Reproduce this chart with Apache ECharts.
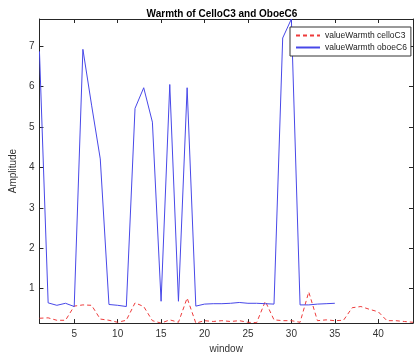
<!DOCTYPE html>
<html>
<head>
<meta charset="utf-8">
<script src="https://cdn.jsdelivr.net/npm/echarts@6/dist/echarts.min.js"></script>
<style>
  html, body { margin: 0; padding: 0; background: #fff; }
  #chart { width: 420px; height: 359px; }
</style>
</head>
<body>
<div id="chart"></div>
<script>
// window index
var windows = [];
for (var i = 1; i <= 44; i++) windows.push(i);
// valueWarmth celloC3 (red dashed), windows 1..44
var cello = [0.27, 0.28, 0.22, 0.22, 0.57, 0.60, 0.59, 0.25, 0.22, 0.17,
             0.22, 0.65, 0.56, 0.21, 0.15, 0.23, 0.17, 0.77, 0.15, 0.21,
             0.19, 0.21, 0.19, 0.21, 0.17, 0.16, 0.69, 0.23, 0.21, 0.21,
             0.17, 0.92, 0.21, 0.23, 0.21, 0.22, 0.53, 0.56, 0.49, 0.43,
             0.21, 0.21, 0.19, 0.17];
// valueWarmth oboeC6 (blue solid), windows 1..35
var oboe = [6.87, 0.65, 0.59, 0.64, 0.56, 6.92, 5.54, 4.21, 0.61, 0.59,
            0.56, 5.46, 5.97, 5.12, 0.69, 6.05, 0.69, 5.97, 0.57, 0.62,
            0.63, 0.63, 0.64, 0.66, 0.64, 0.64, 0.63, 0.62, 7.2, 7.67,
            0.6, 0.6, 0.62, 0.63, 0.64];
var xTicks = [5, 10, 15, 20, 25, 30, 35, 40];
var yTicks = [1, 2, 3, 4, 5, 6, 7];

function pairs(vals) {
  return vals.map(function (v, k) { return [windows[k], v]; });
}

var chart = echarts.init(document.getElementById('chart'));
var axisCol = '#262626';
var font = 'Liberation Sans, Arial, sans-serif';

chart.setOption({
  backgroundColor: '#fff',
  animation: false,
  title: {
    text: 'Warmth of CelloC3 and OboeC6',
    left: 217, top: 4, textAlign: 'center',
    textStyle: { fontSize: 10, fontWeight: 'bold', color: '#000', fontFamily: font }
  },
  legend: {
    left: 290, top: 27,
    orient: 'vertical',
    itemWidth: 24, itemHeight: 8, itemGap: 3,
    padding: [4, 4, 4, 5],
    borderColor: '#333', borderWidth: 1,
    backgroundColor: '#fff',
    itemStyle: { opacity: 0 },
    textStyle: { fontSize: 8.5, color: '#222', fontFamily: font },
    data: ['valueWarmth celloC3', 'valueWarmth oboeC6']
  },
  grid: { left: 20, right: 7, top: 19, bottom: 30 },
  xAxis: [{
    type: 'value', min: 1, max: 44,
    name: 'window', nameLocation: 'middle', nameGap: 20,
    nameTextStyle: { fontSize: 10, color: '#333', fontFamily: font },
    axisLine: { lineStyle: { color: axisCol } },
    axisTick: { inside: true, length: 4, customValues: xTicks, lineStyle: { color: axisCol } },
    axisLabel: { customValues: xTicks, fontSize: 10, color: '#333', margin: 6, fontFamily: font },
    splitLine: { show: false }
  }, {
    type: 'value', min: 1, max: 44, position: 'top',
    axisLine: { lineStyle: { color: axisCol } },
    axisTick: { inside: true, length: 4, customValues: xTicks, lineStyle: { color: axisCol } },
    axisLabel: { show: false },
    splitLine: { show: false }
  }],
  yAxis: [{
    type: 'value', min: 0.15, max: 7.67,
    name: 'Amplitude', nameLocation: 'middle', nameGap: 13,
    nameTextStyle: { fontSize: 10, color: '#333', fontFamily: font },
    axisLine: { show: true, lineStyle: { color: axisCol } },
    axisTick: { show: true, inside: true, length: 4, customValues: yTicks, lineStyle: { color: axisCol } },
    axisLabel: { customValues: yTicks, fontSize: 10, color: '#333', margin: 5, fontFamily: font },
    splitLine: { show: false }
  }, {
    type: 'value', min: 0.15, max: 7.67, position: 'right',
    axisLine: { show: true, lineStyle: { color: axisCol } },
    axisTick: { show: true, inside: true, length: 4, customValues: yTicks, lineStyle: { color: axisCol } },
    axisLabel: { show: false },
    splitLine: { show: false }
  }],
  series: [{
    name: 'valueWarmth celloC3',
    type: 'line',
    data: pairs(cello),
    symbol: 'none',
    itemStyle: { color: '#ee3b3b' },
    lineStyle: { color: '#ee3b3b', width: 1, type: [4, 3] }
  }, {
    name: 'valueWarmth oboeC6',
    type: 'line',
    data: pairs(oboe),
    symbol: 'none',
    itemStyle: { color: '#4848e8' },
    lineStyle: { color: '#4848e8', width: 1 }
  }]
});
</script>
</body>
</html>
